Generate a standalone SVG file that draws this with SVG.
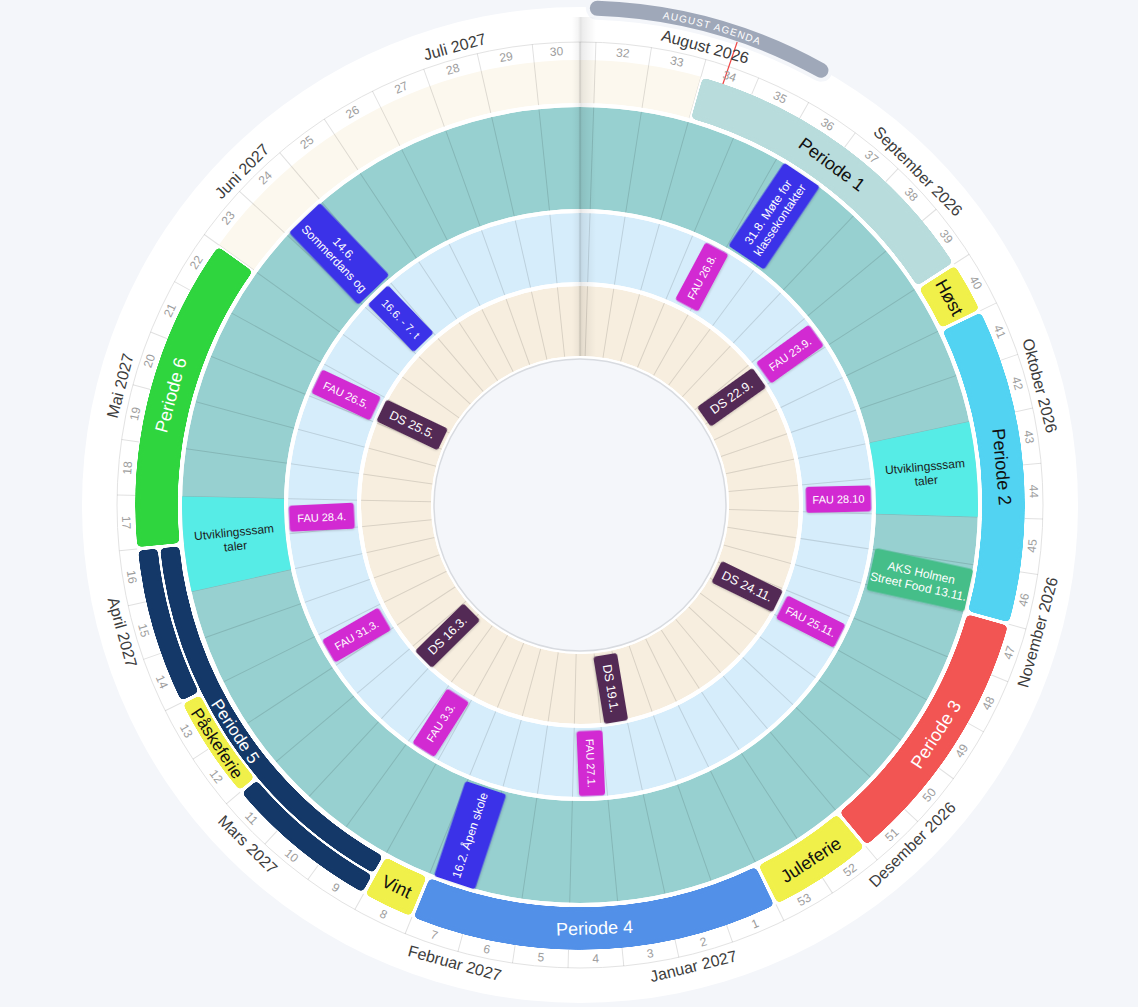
<svg xmlns="http://www.w3.org/2000/svg" width="1138" height="1007" viewBox="0 0 1138 1007">
<style>
text{font-family:"Liberation Sans",Arial,sans-serif;text-anchor:middle;dominant-baseline:central}
.wk{font-size:12px;fill:#9d9d9d}
.mo{font-size:16px;fill:#3c3c3c}
.pl{font-size:18px}
.pls{font-size:17px}
.ev{font-size:12px;fill:#fff}
.evd{font-size:12px;fill:#1c1c1c}
.fau{font-size:11px;fill:#fff}
.ds{font-size:12.5px;fill:#fff}
.arc{fill:none}
.band{fill:none;filter:url(#rnd)}
</style>
<defs>
<line id="wl" x1="0" y1="-149" x2="0" y2="-463" stroke="#000" stroke-opacity="0.12" stroke-width="1"/>
<filter id="sh" x="-20%" y="-20%" width="140%" height="140%"><feDropShadow dx="0" dy="1" stdDeviation="1" flood-color="#000" flood-opacity="0.18"/></filter>
<filter id="rnd" color-interpolation-filters="sRGB"><feGaussianBlur stdDeviation="2.5"/><feColorMatrix type="matrix" values="1 0 0 0 0  0 1 0 0 0  0 0 1 0 0  0 0 0 14 -7"/></filter>
<linearGradient id="fold" x1="0" y1="0" x2="1" y2="0">
<stop offset="0" stop-color="#000" stop-opacity="0"/>
<stop offset="0.25" stop-color="#000" stop-opacity="0.04"/>
<stop offset="0.36" stop-color="#000" stop-opacity="0.11"/>
<stop offset="0.45" stop-color="#000" stop-opacity="0.07"/>
<stop offset="1" stop-color="#000" stop-opacity="0"/>
</linearGradient>
<path id="agp" d="M17.34,-496.7 A497,497 0 0 1 240.95,-434.69"/>
</defs>
<rect width="1138" height="1007" fill="#f4f6fa"/>
<g id="wheel" transform="translate(580 505)">
<circle r="498" fill="#fff"/>
<g id="agenda">
<circle class="arc" r="497" transform="rotate(-90)" pathLength="360" stroke="#f4f6fa" stroke-width="23" stroke-linecap="round" stroke-dasharray="27 400" stroke-dashoffset="-2"/>
<circle class="arc" r="497" transform="rotate(-90)" pathLength="360" stroke="#9fa8b9" stroke-width="15" stroke-linecap="round" stroke-dasharray="27 400" stroke-dashoffset="-2"/>
<text font-size="10" fill="#fff" letter-spacing="1.2" dy="3.5" style="dominant-baseline:auto"><textPath href="#agp" startOffset="50%">AUGUST AGENDA</textPath></text>
</g>
<g id="rings">
<circle class="arc" r="463" stroke="#e3e3e3" stroke-width="1"/>
<circle class="arc" r="347" stroke="#97d0d0" stroke-width="102"/>
<circle class="arc" r="257.5" stroke="#d6edfb" stroke-width="69"/>
<circle class="arc" r="184" stroke="#f7eedf" stroke-width="70"/>
<circle class="arc" r="423.5" transform="rotate(-90)" pathLength="365" stroke="#fcf8ee" stroke-width="43" stroke-dasharray="16 294 55"/>
</g>
<g id="week-lines">
<use href="#wl" transform="rotate(0)"/>
<use href="#wl" transform="rotate(1.973)"/><use href="#wl" transform="rotate(8.877)"/><use href="#wl" transform="rotate(15.781)"/><use href="#wl" transform="rotate(22.685)"/><use href="#wl" transform="rotate(29.589)"/><use href="#wl" transform="rotate(36.493)"/><use href="#wl" transform="rotate(43.397)"/><use href="#wl" transform="rotate(50.301)"/><use href="#wl" transform="rotate(57.205)"/><use href="#wl" transform="rotate(64.110)"/><use href="#wl" transform="rotate(71.014)"/><use href="#wl" transform="rotate(77.918)"/><use href="#wl" transform="rotate(84.822)"/><use href="#wl" transform="rotate(91.726)"/><use href="#wl" transform="rotate(98.630)"/><use href="#wl" transform="rotate(105.534)"/><use href="#wl" transform="rotate(112.438)"/><use href="#wl" transform="rotate(119.342)"/><use href="#wl" transform="rotate(126.247)"/><use href="#wl" transform="rotate(133.151)"/><use href="#wl" transform="rotate(140.055)"/><use href="#wl" transform="rotate(146.959)"/><use href="#wl" transform="rotate(153.863)"/><use href="#wl" transform="rotate(160.767)"/><use href="#wl" transform="rotate(167.671)"/><use href="#wl" transform="rotate(174.575)"/><use href="#wl" transform="rotate(181.479)"/><use href="#wl" transform="rotate(188.384)"/><use href="#wl" transform="rotate(195.288)"/><use href="#wl" transform="rotate(202.192)"/><use href="#wl" transform="rotate(209.096)"/><use href="#wl" transform="rotate(216.000)"/><use href="#wl" transform="rotate(222.904)"/><use href="#wl" transform="rotate(229.808)"/><use href="#wl" transform="rotate(236.712)"/><use href="#wl" transform="rotate(243.616)"/><use href="#wl" transform="rotate(250.521)"/><use href="#wl" transform="rotate(257.425)"/><use href="#wl" transform="rotate(264.329)"/><use href="#wl" transform="rotate(271.233)"/><use href="#wl" transform="rotate(278.137)"/><use href="#wl" transform="rotate(285.041)"/><use href="#wl" transform="rotate(291.945)"/><use href="#wl" transform="rotate(298.849)"/><use href="#wl" transform="rotate(305.753)"/><use href="#wl" transform="rotate(312.658)"/><use href="#wl" transform="rotate(319.562)"/><use href="#wl" transform="rotate(326.466)"/><use href="#wl" transform="rotate(333.370)"/><use href="#wl" transform="rotate(340.274)"/><use href="#wl" transform="rotate(347.178)"/><use href="#wl" transform="rotate(354.082)"/>
</g>
<g id="gaps">
<circle class="arc" r="423.5" transform="rotate(-90)" pathLength="365" stroke="#fff" stroke-width="43" stroke-dasharray="294 400" stroke-dashoffset="-16"/>
<circle class="arc" r="400" stroke="#fff" stroke-width="4"/>
<circle class="arc" r="294" stroke="#fff" stroke-width="4"/>
<circle class="arc" r="221" stroke="#fff" stroke-width="4"/>
<circle class="arc" r="147.5" stroke="#fff" stroke-width="3"/>
<circle r="146" fill="#f4f6fa" stroke="#d8dbe0" stroke-width="1.5"/>
</g>
<rect id="fold-shadow" x="-8" y="-488" width="24" height="339" fill="url(#fold)"/>
<line id="today" x1="0" y1="-438" x2="0" y2="-489" transform="rotate(18.75)" stroke="#ef4646" stroke-width="1.2"/>
<g id="week-labels">
<text class="wk" transform="rotate(5.42) translate(0,-454)">32</text>
<text class="wk" transform="rotate(12.33) translate(0,-454)">33</text>
<text class="wk" transform="rotate(19.23) translate(0,-454)">34</text>
<text class="wk" transform="rotate(26.14) translate(0,-454)">35</text>
<text class="wk" transform="rotate(33.04) translate(0,-454)">36</text>
<text class="wk" transform="rotate(39.95) translate(0,-454)">37</text>
<text class="wk" transform="rotate(46.85) translate(0,-454)">38</text>
<text class="wk" transform="rotate(53.75) translate(0,-454)">39</text>
<text class="wk" transform="rotate(60.66) translate(0,-454)">40</text>
<text class="wk" transform="rotate(67.56) translate(0,-454)">41</text>
<text class="wk" transform="rotate(74.47) translate(0,-454)">42</text>
<text class="wk" transform="rotate(81.37) translate(0,-454)">43</text>
<text class="wk" transform="rotate(88.27) translate(0,-454)">44</text>
<text class="wk" transform="rotate(95.18) translate(0,-454) rotate(180)">45</text>
<text class="wk" transform="rotate(102.08) translate(0,-454) rotate(180)">46</text>
<text class="wk" transform="rotate(108.99) translate(0,-454) rotate(180)">47</text>
<text class="wk" transform="rotate(115.89) translate(0,-454) rotate(180)">48</text>
<text class="wk" transform="rotate(122.79) translate(0,-454) rotate(180)">49</text>
<text class="wk" transform="rotate(129.70) translate(0,-454) rotate(180)">50</text>
<text class="wk" transform="rotate(136.60) translate(0,-454) rotate(180)">51</text>
<text class="wk" transform="rotate(143.51) translate(0,-454) rotate(180)">52</text>
<text class="wk" transform="rotate(150.41) translate(0,-454) rotate(180)">53</text>
<text class="wk" transform="rotate(157.32) translate(0,-454) rotate(180)">1</text>
<text class="wk" transform="rotate(164.22) translate(0,-454) rotate(180)">2</text>
<text class="wk" transform="rotate(171.12) translate(0,-454) rotate(180)">3</text>
<text class="wk" transform="rotate(178.03) translate(0,-454) rotate(180)">4</text>
<text class="wk" transform="rotate(184.93) translate(0,-454) rotate(180)">5</text>
<text class="wk" transform="rotate(191.84) translate(0,-454) rotate(180)">6</text>
<text class="wk" transform="rotate(198.74) translate(0,-454) rotate(180)">7</text>
<text class="wk" transform="rotate(205.64) translate(0,-454) rotate(180)">8</text>
<text class="wk" transform="rotate(212.55) translate(0,-454) rotate(180)">9</text>
<text class="wk" transform="rotate(219.45) translate(0,-454) rotate(180)">10</text>
<text class="wk" transform="rotate(226.36) translate(0,-454) rotate(180)">11</text>
<text class="wk" transform="rotate(233.26) translate(0,-454) rotate(180)">12</text>
<text class="wk" transform="rotate(240.16) translate(0,-454) rotate(180)">13</text>
<text class="wk" transform="rotate(247.07) translate(0,-454) rotate(180)">14</text>
<text class="wk" transform="rotate(253.97) translate(0,-454) rotate(180)">15</text>
<text class="wk" transform="rotate(260.88) translate(0,-454) rotate(180)">16</text>
<text class="wk" transform="rotate(267.78) translate(0,-454) rotate(180)">17</text>
<text class="wk" transform="rotate(274.68) translate(0,-454)">18</text>
<text class="wk" transform="rotate(281.59) translate(0,-454)">19</text>
<text class="wk" transform="rotate(288.49) translate(0,-454)">20</text>
<text class="wk" transform="rotate(295.40) translate(0,-454)">21</text>
<text class="wk" transform="rotate(302.30) translate(0,-454)">22</text>
<text class="wk" transform="rotate(309.21) translate(0,-454)">23</text>
<text class="wk" transform="rotate(316.11) translate(0,-454)">24</text>
<text class="wk" transform="rotate(323.01) translate(0,-454)">25</text>
<text class="wk" transform="rotate(329.92) translate(0,-454)">26</text>
<text class="wk" transform="rotate(336.82) translate(0,-454)">27</text>
<text class="wk" transform="rotate(343.73) translate(0,-454)">28</text>
<text class="wk" transform="rotate(350.63) translate(0,-454)">29</text>
<text class="wk" transform="rotate(357.04) translate(0,-454)">30</text>
</g>
<g id="month-labels">
<text class="mo" transform="rotate(15.29) translate(0,-475)">August 2026</text>
<text class="mo" transform="rotate(45.37) translate(0,-475)">September 2026</text>
<text class="mo" transform="rotate(75.45) translate(0,-475)">Oktober 2026</text>
<text class="mo" transform="rotate(105.53) translate(0,-475) rotate(180)">November 2026</text>
<text class="mo" transform="rotate(135.62) translate(0,-475) rotate(180)">Desember 2026</text>
<text class="mo" transform="rotate(166.19) translate(0,-475) rotate(180)">Januar 2027</text>
<text class="mo" transform="rotate(195.29) translate(0,-475) rotate(180)">Februar 2027</text>
<text class="mo" transform="rotate(224.38) translate(0,-475) rotate(180)">Mars 2027</text>
<text class="mo" transform="rotate(254.47) translate(0,-475) rotate(180)">April 2027</text>
<text class="mo" transform="rotate(284.55) translate(0,-475)">Mai 2027</text>
<text class="mo" transform="rotate(314.63) translate(0,-475)">Juni 2027</text>
<text class="mo" transform="rotate(344.71) translate(0,-475)">Juli 2027</text>
</g>
<g id="periode-1"><circle class="band" r="423.5" transform="rotate(-90)" pathLength="365" stroke="#b8dcdc" stroke-width="43" stroke-dasharray="41.6 400" stroke-dashoffset="-16.2"/><text class="pl" fill="#111" transform="rotate(36.49) translate(0,-423.5)">Periode 1</text></g>
<g id="host"><circle class="band" r="423.5" transform="rotate(-90)" pathLength="365" stroke="#f0f04a" stroke-width="43" stroke-dasharray="6.6 400" stroke-dashoffset="-58.2"/><text class="pl" fill="#111" transform="rotate(60.66) translate(0,-423.5)">Høst</text></g>
<g id="periode-2"><circle class="band" r="423.5" transform="rotate(-90)" pathLength="365" stroke="#52d3f2" stroke-width="43" stroke-dasharray="41.6 400" stroke-dashoffset="-65.2"/><text class="pl" fill="#111" transform="rotate(84.82) translate(0,-423.5)">Periode 2</text></g>
<g id="periode-3"><circle class="band" r="423.5" transform="rotate(-90)" pathLength="365" stroke="#f25553" stroke-width="43" stroke-dasharray="34.6 400" stroke-dashoffset="-107.2"/><text class="pl" fill="#fff" transform="rotate(122.79) translate(0,-423.5) rotate(180)">Periode 3</text></g>
<g id="juleferie"><circle class="band" r="423.5" transform="rotate(-90)" pathLength="365" stroke="#f0f04a" stroke-width="43" stroke-dasharray="13.6 400" stroke-dashoffset="-142.2"/><text class="pl" fill="#111" transform="rotate(146.96) translate(0,-423.5) rotate(180)">Juleferie</text></g>
<g id="periode-4"><circle class="band" r="423.5" transform="rotate(-90)" pathLength="365" stroke="#5290e8" stroke-width="43" stroke-dasharray="48.6 400" stroke-dashoffset="-156.2"/><text class="pl" fill="#fff" transform="rotate(178.03) translate(0,-423.5) rotate(180)">Periode 4</text></g>
<g id="vint"><circle class="band" r="423.5" transform="rotate(-90)" pathLength="365" stroke="#f0f04a" stroke-width="43" stroke-dasharray="6.6 400" stroke-dashoffset="-205.2"/><text class="pl" fill="#111" transform="rotate(205.64) translate(0,-423.5) rotate(180)">Vint</text></g>
<g id="periode-5">
<circle class="band" r="412.5" transform="rotate(-90)" pathLength="365" stroke="#143868" stroke-width="20" stroke-dasharray="55.6 400" stroke-dashoffset="-212.2"/>
<circle class="band" r="434.5" transform="rotate(-90)" pathLength="365" stroke="#143868" stroke-width="20" stroke-dasharray="20.6 400" stroke-dashoffset="-212.2"/>
<circle class="band" r="434.5" transform="rotate(-90)" pathLength="365" stroke="#143868" stroke-width="20" stroke-dasharray="20.6 400" stroke-dashoffset="-247.2"/>
<text class="pls" fill="#fff" transform="rotate(236.71) translate(0,-412.5) rotate(180)">Periode 5</text>
</g>
<g id="paskeferie"><circle class="band" r="434.5" transform="rotate(-90)" pathLength="365" stroke="#f0f04a" stroke-width="20" stroke-dasharray="13.6 400" stroke-dashoffset="-233.2"/><text class="pls" fill="#111" transform="rotate(236.71) translate(0,-434.5) rotate(180)">Påskeferie</text></g>
<g id="periode-6"><circle class="band" r="423.5" transform="rotate(-90)" pathLength="365" stroke="#2fd53e" stroke-width="43" stroke-dasharray="41.6 400" stroke-dashoffset="-268.2"/><text class="pl" fill="#fff" transform="rotate(285.04) translate(0,-423.5)">Periode 6</text></g>
<g id="utvikling-1"><circle class="arc" r="347" transform="rotate(-90)" pathLength="365" stroke="#56ece6" stroke-width="102" stroke-dasharray="14 400" stroke-dashoffset="-79"/><g transform="rotate(84.82) translate(0,-347) rotate(-90)"><text class="evd" y="-7">Utviklingsssam</text><text class="evd" y="7">taler</text></g></g>
<g id="utvikling-2"><circle class="arc" r="347" transform="rotate(-90)" pathLength="365" stroke="#56ece6" stroke-width="102" stroke-dasharray="14 400" stroke-dashoffset="-261"/><g transform="rotate(264.33) translate(0,-347) rotate(90)"><text class="evd" y="-7">Utviklingsssam</text><text class="evd" y="7">taler</text></g></g>
<g id="ev-klassekontakter" transform="rotate(33.9) translate(0,-348) rotate(-90)"><rect x="-50" y="-21.5" width="100" height="43" rx="3" fill="#3a30e8" filter="url(#sh)"/><text class="ev" y="-7">31.8. Møte for</text><text class="ev" y="7">klassekontakter</text></g>
<g id="ev-aks" transform="rotate(102.4) translate(0,-348) rotate(-90)"><rect x="-50" y="-21.5" width="100" height="43" rx="3" fill="#44be89" filter="url(#sh)"/><text class="ev" y="-7">AKS Holmen</text><text class="ev" y="7">Street Food 13.11.</text></g>
<g id="ev-apen-skole" transform="rotate(198.4) translate(0,-348) rotate(90)"><rect x="-50" y="-21.5" width="100" height="43" rx="3" fill="#3a30e8" filter="url(#sh)"/><text class="ev">16.2. Åpen skole</text></g>
<g id="ev-sommerdans" transform="rotate(316.2) translate(0,-348) rotate(90)"><rect x="-50" y="-21.5" width="100" height="43" rx="3" fill="#3a30e8" filter="url(#sh)"/><text class="ev" y="-7">14.6.</text><text class="ev" y="7">Sommerdans og</text></g>
<g id="fau-26-8" transform="rotate(28.1) translate(0,-258.5) rotate(-90)"><rect x="-32.5" y="-13" width="65" height="26" rx="3" fill="#d22cd2" filter="url(#sh)"/><text class="fau">FAU 26.8.</text></g>
<g id="fau-23-9" transform="rotate(54.3) translate(0,-258.5) rotate(-90)"><rect x="-32.5" y="-13" width="65" height="26" rx="3" fill="#d22cd2" filter="url(#sh)"/><text class="fau">FAU 23.9.</text></g>
<g id="fau-28-10" transform="rotate(88.7) translate(0,-258.5) rotate(-90)"><rect x="-32.5" y="-13" width="65" height="26" rx="3" fill="#d22cd2" filter="url(#sh)"/><text class="fau">FAU 28.10</text></g>
<g id="fau-25-11" transform="rotate(116.8) translate(0,-258.5) rotate(-90)"><rect x="-32.5" y="-13" width="65" height="26" rx="3" fill="#d22cd2" filter="url(#sh)"/><text class="fau">FAU 25.11.</text></g>
<g id="fau-27-1" transform="rotate(177.6) translate(0,-258.5) rotate(-90)"><rect x="-32.5" y="-13" width="65" height="26" rx="3" fill="#d22cd2" filter="url(#sh)"/><text class="fau">FAU 27.1.</text></g>
<g id="fau-3-3" transform="rotate(212.6) translate(0,-258.5) rotate(90)"><rect x="-32.5" y="-13" width="65" height="26" rx="3" fill="#d22cd2" filter="url(#sh)"/><text class="fau">FAU 3.3.</text></g>
<g id="fau-31-3" transform="rotate(239.8) translate(0,-258.5) rotate(90)"><rect x="-32.5" y="-13" width="65" height="26" rx="3" fill="#d22cd2" filter="url(#sh)"/><text class="fau">FAU 31.3.</text></g>
<g id="fau-28-4" transform="rotate(267.3) translate(0,-258.5) rotate(90)"><rect x="-32.5" y="-13" width="65" height="26" rx="3" fill="#d22cd2" filter="url(#sh)"/><text class="fau">FAU 28.4.</text></g>
<g id="fau-26-5" transform="rotate(295.2) translate(0,-258.5) rotate(90)"><rect x="-32.5" y="-13" width="65" height="26" rx="3" fill="#d22cd2" filter="url(#sh)"/><text class="fau">FAU 26.5.</text></g>
<g id="ev-16-6" transform="rotate(316.1) translate(0,-258.5) rotate(90)"><rect x="-33" y="-14" width="66" height="28" rx="3" fill="#3a30e8" filter="url(#sh)"/><text class="fau">16.6. - 7. t</text></g>
<g id="ds-22-9" transform="rotate(54.6) translate(0,-186) rotate(-90)"><rect x="-34" y="-12" width="68" height="24" rx="3" fill="#532a54" filter="url(#sh)"/><text class="ds">DS 22.9.</text></g>
<g id="ds-24-11" transform="rotate(116) translate(0,-186) rotate(-90)"><rect x="-34" y="-12" width="68" height="24" rx="3" fill="#532a54" filter="url(#sh)"/><text class="ds">DS 24.11.</text></g>
<g id="ds-19-1" transform="rotate(170.5) translate(0,-186) rotate(-90)"><rect x="-34" y="-12" width="68" height="24" rx="3" fill="#532a54" filter="url(#sh)"/><text class="ds">DS 19.1.</text></g>
<g id="ds-16-3" transform="rotate(225.4) translate(0,-186) rotate(90)"><rect x="-34" y="-12" width="68" height="24" rx="3" fill="#532a54" filter="url(#sh)"/><text class="ds">DS 16.3.</text></g>
<g id="ds-25-5" transform="rotate(295.5) translate(0,-186) rotate(90)"><rect x="-34" y="-12" width="68" height="24" rx="3" fill="#532a54" filter="url(#sh)"/><text class="ds">DS 25.5.</text></g>
<g id="connectors"/>
</g>
</svg>
